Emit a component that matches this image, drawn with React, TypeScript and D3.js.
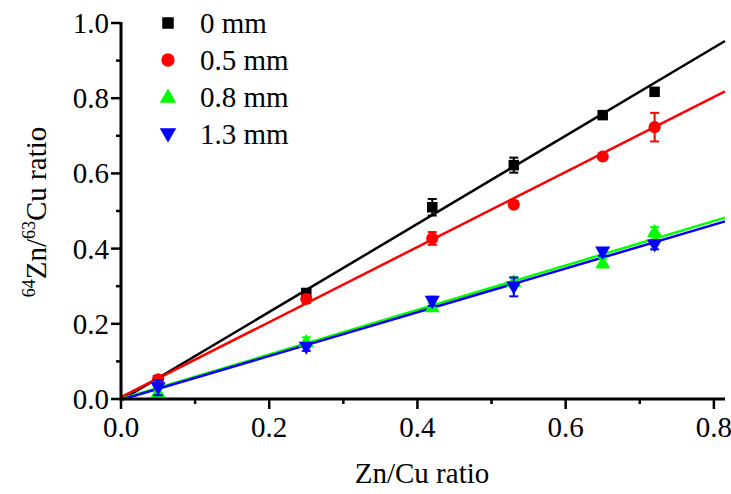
import React from "react";
import * as d3 from "d3";

const xValues = [0.05, 0.25, 0.42, 0.53, 0.65, 0.72];
const seriesNames = ["0 mm", "0.5 mm", "0.8 mm", "1.3 mm"];
const seriesColors = ["#000000", "#ff0000", "#00ff00", "#0000ff"];
const seriesShapes = ["square", "circle", "triangle", "triangleDown"];
const valuesBlack = [0.05, 0.282, 0.51, 0.622, 0.755, 0.817];
const errorsBlack = [0.01, 0.01, 0.022, 0.02, 0.006, 0.006];
const valuesRed = [0.052, 0.266, 0.427, 0.517, 0.645, 0.723];
const errorsRed = [0.008, 0.01, 0.017, 0.006, 0.005, 0.038];
const valuesGreen = [0.018, 0.152, 0.245, 0.312, 0.362, 0.445];
const errorsGreen = [0.008, 0.012, 0.01, 0.012, 0.012, 0.012];
const valuesBlue = [0.03, 0.138, 0.26, 0.298, 0.391, 0.41];
const errorsBlue = [0.02, 0.01, 0.012, 0.025, 0.01, 0.012];
const fitSlopes = [1.172, 0.998, 0.592, 0.582];
const fitIntercepts = [-0.003, 0.005, 0.0, -0.002];
const xTicks = [0.0, 0.2, 0.4, 0.6, 0.8];
const yTicks = [0.0, 0.2, 0.4, 0.6, 0.8, 1.0];
const xMinor = [0.1, 0.3, 0.5, 0.7];
const yMinor = [0.1, 0.3, 0.5, 0.7, 0.9];

const allValues = [valuesBlack, valuesRed, valuesGreen, valuesBlue];
const allErrors = [errorsBlack, errorsRed, errorsGreen, errorsBlue];

const W = 731;
const H = 494;
const FONT = "'Liberation Serif', 'Times New Roman', serif";
const FS = 29;

const x = d3.scaleLinear().domain([0, 0.815]).range([121, 725]);
const y = d3.scaleLinear().domain([0, 1.0]).range([399, 23]);

function Marker({ shape, cx, cy, color, size }: { shape: string; cx: number; cy: number; color: string; size: number }) {
  if (shape === "square") {
    return <rect x={cx - size / 2} y={cy - size / 2} width={size} height={size} fill={color} />;
  }
  if (shape === "circle") {
    return <circle cx={cx} cy={cy} r={size * 0.58} fill={color} />;
  }
  const sym = d3.symbol().type(d3.symbolTriangle).size(size * size * 0.9)();
  const rot = shape === "triangleDown" ? 180 : 0;
  return <path d={sym || ""} transform={`translate(${cx},${cy + (rot ? -1 : 1)}) rotate(${rot})`} fill={color} />;
}

export default function App() {
  const fmt = d3.format(".1f");
  const xEnd = x.domain()[1];
  return (
    <svg width={W} height={H} style={{ position: "absolute", left: 0, top: 0, background: "#fff" }} fontFamily={FONT}>
      <rect x={0} y={0} width={W} height={H} fill="#fff" />
      {/* fit lines */}
      {fitSlopes.map((m, i) => {
        const b = fitIntercepts[i];
        const line = d3
          .line<number>()
          .x((d) => x(d))
          .y((d) => y(m * d + b));
        return <path key={"fit" + i} d={line([0, xEnd]) || ""} stroke={seriesColors[i]} strokeWidth={2.5} fill="none" />;
      })}
      {/* error bars and points */}
      {allValues.map((vals, i) => (
        <g key={"s" + i}>
          {vals.map((v, j) => {
            const cx = x(xValues[j]);
            const e = allErrors[i][j];
            const y1 = y(v + e);
            const y2 = y(v - e);
            return (
              <g key={j}>
                <line x1={cx} x2={cx} y1={y1} y2={y2} stroke={seriesColors[i]} strokeWidth={2} />
                <line x1={cx - 4.5} x2={cx + 4.5} y1={y1} y2={y1} stroke={seriesColors[i]} strokeWidth={2} />
                <line x1={cx - 4.5} x2={cx + 4.5} y1={y2} y2={y2} stroke={seriesColors[i]} strokeWidth={2} />
                <Marker shape={seriesShapes[i]} cx={cx} cy={y(v)} color={seriesColors[i]} size={10.5} />
              </g>
            );
          })}
        </g>
      ))}
      {/* axes */}
      <line x1={x(0)} x2={x(0)} y1={y(1.0) - 1} y2={y(0) + 1.5} stroke="#000" strokeWidth={3} />
      <line x1={x(0) - 1.5} x2={x(xEnd)} y1={y(0)} y2={y(0)} stroke="#000" strokeWidth={3} />
      {yTicks.map((t) => (
        <g key={"yt" + t}>
          <line x1={x(0) - 10} x2={x(0)} y1={y(t)} y2={y(t)} stroke="#000" strokeWidth={2.5} />
          <text x={x(0) - 12} y={y(t) + 10} textAnchor="end" fontSize={FS}>
            {fmt(t)}
          </text>
        </g>
      ))}
      {yMinor.map((t) => (
        <line key={"ym" + t} x1={x(0) - 5} x2={x(0)} y1={y(t)} y2={y(t)} stroke="#000" strokeWidth={2.5} />
      ))}
      {xTicks.map((t) => (
        <g key={"xt" + t}>
          <line x1={x(t)} x2={x(t)} y1={y(0)} y2={y(0) + 10} stroke="#000" strokeWidth={2.5} />
          <text x={x(t)} y={y(0) + 38} textAnchor="middle" fontSize={FS}>
            {fmt(t)}
          </text>
        </g>
      ))}
      {xMinor.map((t) => (
        <line key={"xm" + t} x1={x(t)} x2={x(t)} y1={y(0)} y2={y(0) + 5} stroke="#000" strokeWidth={2.5} />
      ))}
      {/* axis titles */}
      <text x={422} y={483} textAnchor="middle" fontSize={FS}>
        Zn/Cu ratio
      </text>
      <text transform="translate(46,212) rotate(-90)" textAnchor="middle" fontSize={FS}>
        <tspan fontSize={18} dy={-11}>64</tspan>
        <tspan dy={11}>Zn/</tspan>
        <tspan fontSize={18} dy={-11}>63</tspan>
        <tspan dy={11}>Cu ratio</tspan>
      </text>
      {/* legend */}
      {seriesNames.map((name, i) => {
        const ly = 23 + i * 37;
        return (
          <g key={"lg" + i}>
            <Marker shape={seriesShapes[i]} cx={168} cy={ly} color={seriesColors[i]} size={11.5} />
            <text x={200} y={ly + 10} fontSize={FS}>
              {name}
            </text>
          </g>
        );
      })}
    </svg>
  );
}
